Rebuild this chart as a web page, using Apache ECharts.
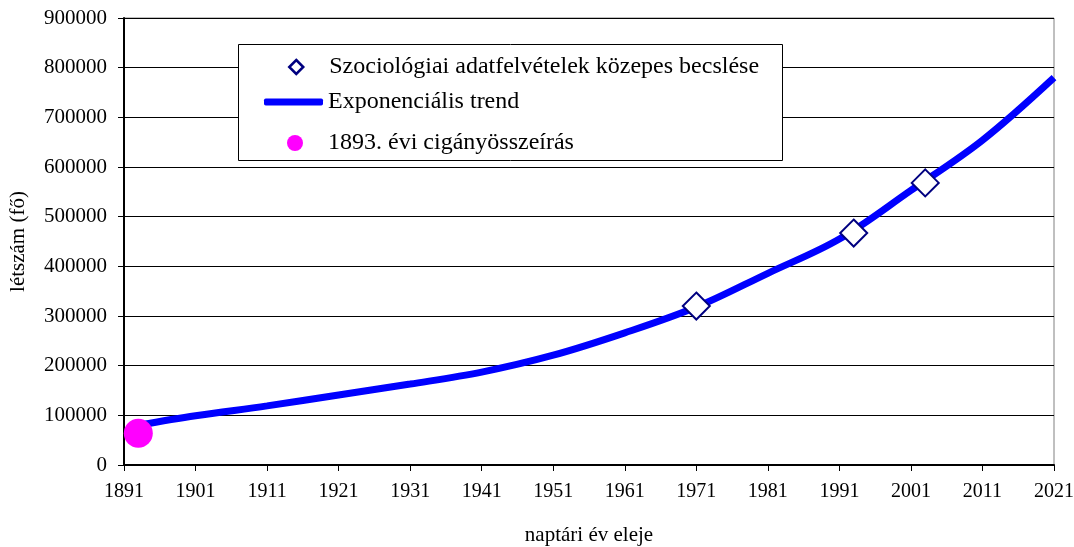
<!DOCTYPE html>
<html><head><meta charset="utf-8">
<script src="https://cdn.jsdelivr.net/npm/echarts@6/dist/echarts.min.js"></script>
<style>html,body{margin:0;padding:0;background:#fff}#c{width:1074px;height:547px}</style>
</head><body><div id="c"></div>
<script>
const baseYear = 1891;
const xTickYears = [1891,1901,1911,1921,1931,1941,1951,1961,1971,1981,1991,2001,2011,2021];
const yTicks = [0,100000,200000,300000,400000,500000,600000,700000,800000,900000];
const trendYears = [1893,1901,1911,1921,1931,1941,1951,1961,1971,1981,1991,2001,2011,2021];
const trendValues = [80000,99000,119000,141000,163000,187000,221000,266000,318000,386000,455000,553000,654000,780000];
const surveyYears = [1971,1993,2003];
const surveyValues = [320000,467000,568000];
const censusYears = [1893];
const censusValues = [64000];
const seriesNames = ['Szociológiai adatfelvételek közepes becslése','Exponenciális trend','1893. évi cigányösszeírás'];

const toPts = (xs, ys) => xs.map((x, i) => [x - baseYear, ys[i]]);
const font = 'Liberation Serif';
const chart = echarts.init(document.getElementById('c'), null, {renderer:'canvas'});
const legendText = {fontFamily: font, fontSize: 24, lineHeight: 24, color: '#000'};
chart.setOption({
  animation: false,
  grid: {left: 124, right: 20, top: 18, bottom: 82, show: true, borderColor: '#808080', borderWidth: 1,
         outerBoundsMode: 'none', containLabel: false},
  xAxis: {
    type: 'value', min: 0, max: xTickYears[xTickYears.length-1] - baseYear, interval: 10,
    name: 'naptári év eleje', nameLocation: 'middle', nameGap: 60, nameMoveOverlap: false,
    nameTextStyle: {fontFamily: font, fontSize: 21, color: '#000'},
    axisLine: {show: true, lineStyle: {color: '#000', width: 2}},
    axisTick: {show: true, length: 6, lineStyle: {color: '#000', width: 1}},
    axisLabel: {fontFamily: font, fontSize: 20, color: '#000', margin: 17, formatter: v => String(v + baseYear)},
    splitLine: {show: false}
  },
  yAxis: {
    type: 'value', min: yTicks[0], max: yTicks[yTicks.length-1], interval: 100000,
    name: 'létszám (fő)', nameLocation: 'middle', nameGap: 95, nameRotate: 90, nameMoveOverlap: false,
    nameTextStyle: {fontFamily: font, fontSize: 21, color: '#000'},
    axisLine: {show: true, lineStyle: {color: '#000', width: 2}},
    axisTick: {show: true, length: 6, lineStyle: {color: '#000', width: 1}},
    axisLabel: {fontFamily: font, fontSize: 21, color: '#000', margin: 17, formatter: v => String(v)},
    splitLine: {show: true, lineStyle: {color: '#000', width: 1}}
  },
  graphic: [{type: 'rect', left: 238, top: 44, shape: {width: 544, height: 116}, style: {fill: '#fff', stroke: '#000', lineWidth: 1}, z: 50}],
  legend: [
    {data: [{name: seriesNames[0], icon: 'diamond', itemStyle: {color: '#fff', borderColor: '#000080', borderWidth: 2.5}}],
     left: 288, top: 55, padding: 0, itemWidth: 14, itemHeight: 14, textStyle: Object.assign({padding: [0,0,0,21]}, legendText), z: 60, selectedMode: false},
    {data: [{name: seriesNames[1], icon: 'roundRect', itemStyle: {color: '#0000ff'}}],
     left: 264, top: 90, padding: 0, itemWidth: 59, itemHeight: 7, itemStyle: {borderWidth: 0}, textStyle: Object.assign({padding: [0,0,0,0]}, legendText), z: 60, selectedMode: false},
    {data: [{name: seriesNames[2], icon: 'circle', itemStyle: {color: '#ff00ff'}}],
     left: 287, top: 131, padding: 0, itemWidth: 16, itemHeight: 16, textStyle: Object.assign({padding: [0,0,0,20]}, legendText), z: 60, selectedMode: false}
  ],
  series: [
    {name: seriesNames[1], type: 'line', data: toPts(trendYears, trendValues), smooth: 0.35, showSymbol: false,
     lineStyle: {color: '#0000ff', width: 7}, itemStyle: {color: '#0000ff'}, z: 2},
    {name: seriesNames[0], type: 'scatter', data: toPts(surveyYears, surveyValues), symbol: 'diamond', symbolSize: 27,
     itemStyle: {color: '#fff', borderColor: '#000080', borderWidth: 2, opacity: 1}, z: 3},
    {name: seriesNames[2], type: 'scatter', data: toPts(censusYears, censusValues), symbol: 'circle', symbolSize: 29,
     itemStyle: {color: '#ff00ff', opacity: 1}, z: 4}
  ]
});
</script></body></html>
